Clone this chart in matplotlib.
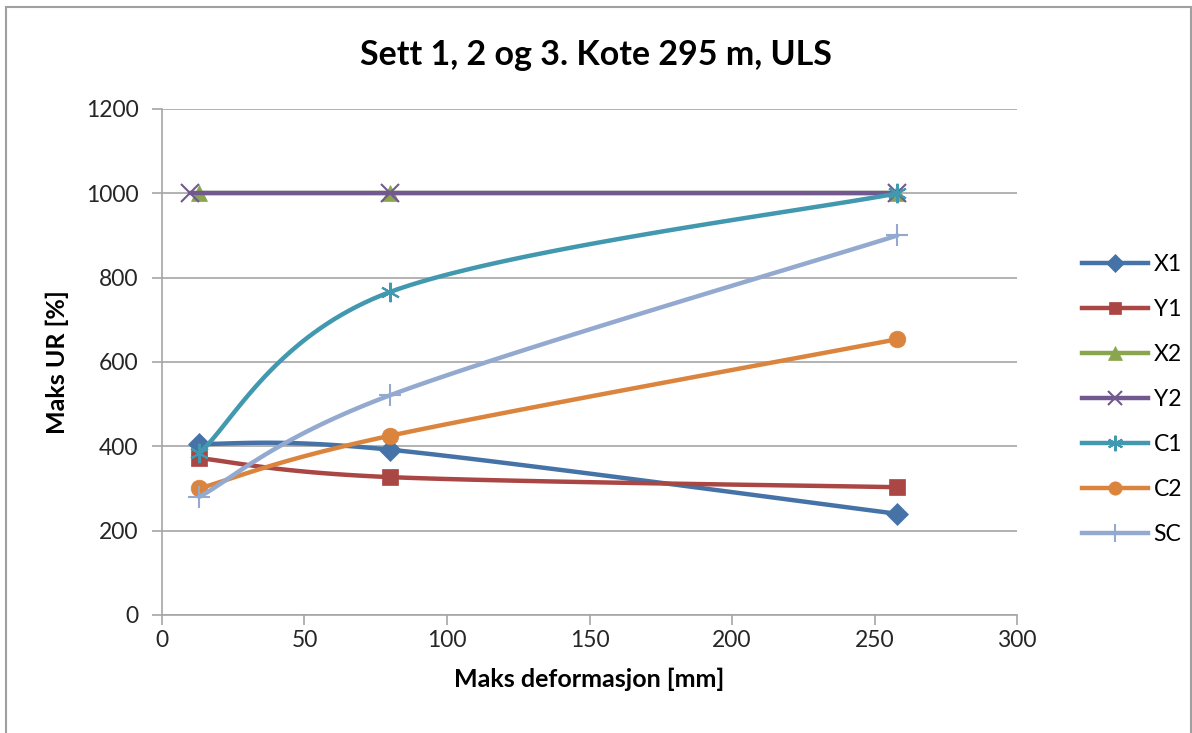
import numpy as np
import matplotlib.pyplot as plt
import matplotlib as mpl
from matplotlib.patches import Rectangle

mpl.rcParams['font.family'] = ['Lato', 'DejaVu Sans']

# data
x_vals = [13, 80, 258]
x_y2 = [10, 80, 258]
x1 = [406, 392, 240]
y1 = [372, 327, 303]
x2 = [1000, 1000, 1000]
y2 = [1000, 1000, 1000]
c1 = [384, 766, 1000]
c2 = [300, 425, 654]
sc = [280, 521, 900]

names = ['X1', 'Y1', 'X2', 'Y2', 'C1', 'C2', 'SC']
colors = ['#4572A7', '#AA4643', '#89A54E', '#71588F', '#4198AF', '#DB843D', '#93A9CF']
markers = ['D', 's', '^', 'x', '*', 'o', '+']


def smooth(xs, ys, n=40):
    """Excel style smoothed line (cubic bezier through the points)"""
    p = np.column_stack([xs, ys]).astype(float)
    pts = [p[0]]
    for i in range(len(p) - 1):
        a = p[i - 1] if i > 0 else p[i]
        d = p[i + 2] if i + 2 < len(p) else p[i + 1]
        b0 = p[i]
        b3 = p[i + 1]
        b1 = b0 + (b3 - a) / 6
        b2 = b3 - (d - b0) / 6
        t = np.linspace(0, 1, n)[1:, None]
        seg = ((1 - t) ** 3 * b0 + 3 * (1 - t) ** 2 * t * b1
               + 3 * (1 - t) * t ** 2 * b2 + t ** 3 * b3)
        pts.extend(seg)
    pts = np.array(pts)
    return pts[:, 0], pts[:, 1]


fig = plt.figure(figsize=(11.92, 7.33), dpi=100)
fig.patches.append(Rectangle((6 / 1192, -0.01), 1185 / 1192, 1 - 7 / 733 + 0.01,
                             transform=fig.transFigure, fill=False,
                             edgecolor='#A0A0A0', linewidth=1.5))
ax = fig.add_axes([0.1359, 0.161, 0.7173, 0.6903])

series = [(x_vals, x1), (x_vals, y1), (x_vals, x2), (x_y2, y2),
          (x_vals, c1), (x_vals, c2), (x_vals, sc)]
msizes = [11, 11, 12, 13, 14, 12, 16]
for (xs, ys), name, col, mk, ms in zip(series, names, colors, markers, msizes):
    sx, sy = smooth(xs, ys)
    ax.plot(sx, sy, color=col, linewidth=3.2, solid_capstyle='round')
    mew = 1.5 if mk in ('x', '+', '*') else 0.5
    if mk == '*':
        # asterisk marker
        mk = (6, 2, 0)
    ax.plot(xs, ys, linestyle='none', marker=mk, markersize=ms, color=col,
            markerfacecolor=col, markeredgecolor=col, markeredgewidth=mew)
    ax.plot([], [], color=col, linewidth=3.2, marker=mk, markersize=ms * 0.8,
            markeredgewidth=mew, label=name)

ax.set_xlim(0, 300)
ax.set_ylim(0, 1200)
ax.set_xticks(range(0, 301, 50))
ax.set_yticks(range(0, 1201, 200))
ax.grid(axis='y', color='#A6A6A6', linewidth=1.2)
ax.set_axisbelow(True)
for s in ['top', 'right']:
    ax.spines[s].set_visible(False)
for s in ['left', 'bottom']:
    ax.spines[s].set_color('#A6A6A6')
    ax.spines[s].set_linewidth(1.2)
ax.tick_params(colors='#A6A6A6', labelcolor='#262626', labelsize=16.5,
               length=7, width=1.2)
ax.tick_params(axis='y', pad=10)

ax.set_xlabel('Maks deformasjon [mm]', fontsize=18, fontweight='bold', labelpad=12)
ax.set_ylabel('Maks UR [%]', fontsize=18, fontweight='bold', labelpad=12)
fig.text(0.5, 0.925, 'Sett 1, 2 og 3. Kote 295 m, ULS', ha='center', va='center',
         fontsize=24.5, fontweight='bold')

fig.legend(loc='center left', bbox_to_anchor=(0.89, 0.455), frameon=False,
           fontsize=16.5, labelspacing=1.05, handlelength=2.9, handletextpad=0.25)

plt.savefig('out.png', dpi=100)
